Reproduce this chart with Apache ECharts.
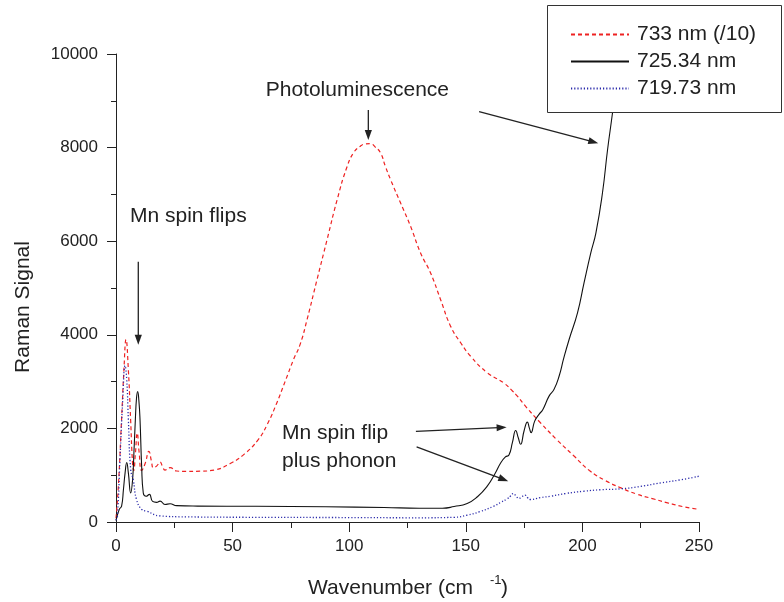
<!DOCTYPE html>
<html>
<head>
<meta charset="utf-8">
<script src="https://cdn.jsdelivr.net/npm/echarts@6/dist/echarts.min.js"></script>
<style>
  html, body { margin: 0; padding: 0; background: #fff; }
  #chart { width: 784px; height: 602px; }
</style>
</head>
<body>
<div id="chart"></div>
<script>
// Series names (legend entries)
const seriesNames = ['733 nm (/10)', '725.34 nm', '719.73 nm'];

// 733 nm excitation, scaled down by 10
const redX = [0, 1, 2.4, 3.4, 4.3, 5.3, 6.3, 7.1, 7.6, 8.3, 9.1, 9.9, 11, 12.5, 14.1, 15.2, 16, 17.5, 18.9, 20, 21, 23.2, 26, 30, 36, 42, 49, 55, 61, 65, 69, 72.5, 76.2, 79, 81.9, 86.2, 90.5, 94.8, 99, 102, 104.8, 107, 109.1, 111, 113.4, 115.5, 117.7, 122, 126.3, 130.6, 134.9, 139.2, 143.5, 147.8, 152.1, 159.2, 166.3, 170, 172.1, 176, 182, 189, 196.4, 203, 210, 216.5, 223, 230, 236.5, 243, 250];
const redY = [80, 750, 2200, 3250, 3900, 3250, 2150, 1250, 1100, 1450, 1900, 1500, 1100, 1250, 1510, 1300, 1160, 1200, 1280, 1180, 1110, 1160, 1090, 1080, 1085, 1110, 1250, 1450, 1760, 2100, 2550, 3000, 3480, 3800, 4320, 5180, 6030, 6880, 7580, 7900, 8030, 8080, 8085, 8020, 7890, 7600, 7320, 6820, 6320, 5750, 5320, 4750, 4180, 3830, 3540, 3190, 2970, 2800, 2690, 2450, 2120, 1760, 1410, 1100, 880, 730, 600, 500, 410, 330, 270];

// 725.34 nm excitation
const blackX = [0, 1.4, 2.4, 3.2, 3.9, 4.6, 5.3, 6.3, 7.1, 7.7, 8.3, 8.8, 9.3, 9.8, 10.3, 11, 11.7, 12.9, 14.3, 15.7, 17.4, 18.9, 21, 23.2, 26, 35, 60, 90, 115, 130, 140, 145, 150.6, 155, 159.2, 162.5, 165, 167, 168.5, 170, 171.4, 172.5, 173.5, 175, 176.4, 177.3, 178, 179.5, 181.4, 183, 185.7, 187.8, 190, 192, 194.3, 197.9, 200.7, 203.6, 205.8, 208.6, 210.8, 212.9, 215, 217];
const blackY = [30, 270, 340, 700, 1050, 1270, 1050, 620, 900, 1500, 2190, 2650, 2790, 2600, 2190, 1190, 620, 550, 590, 440, 420, 445, 375, 390, 350, 340, 335, 325, 310, 295, 295, 330, 395, 540, 765, 1030, 1265, 1390, 1430, 1700, 1955, 1800, 1660, 1950, 2135, 2000, 1910, 2150, 2300, 2400, 2690, 2830, 3115, 3500, 3900, 4470, 5110, 5750, 6180, 7030, 7960, 8740, 9600, 10400];

// 719.73 nm excitation
const blueX = [0, 0.6, 1.7, 2.9, 3.9, 4.6, 5.3, 6.3, 7.4, 8.8, 11, 13.2, 18.9, 30, 60, 100, 130, 145, 150.6, 156, 162, 165, 167.8, 169.3, 170.4, 171.5, 172.8, 174, 175.4, 176.5, 177.8, 182, 186.4, 193, 200.7, 208, 216.5, 225, 233.7, 242, 250];
const blueY = [40, 120, 1330, 2620, 3340, 3050, 2190, 1120, 900, 480, 270, 230, 130, 110, 100, 95, 90, 100, 146, 220, 338, 420, 496, 560, 609, 560, 502, 540, 573, 520, 481, 520, 551, 610, 658, 690, 709, 760, 837, 900, 979];

// Axis ranges
const xRange = [0, 250, 50];
const yRange = [0, 10000, 2000];

// Annotation arrows, in axis units: [from, to]
const arrows = [
  [[108.2, 8805], [108.2, 8164]],
  [[155.7, 8768], [206.8, 8094]],
  [[9.56, 5560], [9.56, 3789]],
  [[128.6, 1938], [167.5, 2023]],
  [[128.9, 1605], [168.2, 871]]
];

const FONT = '"Liberation Sans", Arial, Helvetica, sans-serif';
const INK = '#222';
const pair = (xs, ys) => xs.map((x, i) => [x, ys[i]]);

const chart = echarts.init(document.getElementById('chart'), null, { renderer: 'canvas' });

const axisCommon = {
  type: 'value',
  axisLine: { show: true, onZero: false, lineStyle: { color: INK, width: 1 } },
  axisTick: { show: true, inside: false, lineStyle: { color: INK, width: 1 } },
  minorTick: { show: true, splitNumber: 2, lineStyle: { color: INK, width: 1 } },
  splitLine: { show: false },
  minorSplitLine: { show: false }
};

const plainNumber = v => String(v);

chart.setOption({
  animation: false,
  backgroundColor: '#fff',
  grid: { left: 116, right: 85, top: 54, bottom: 80, containLabel: false },
  xAxis: Object.assign({}, axisCommon, {
    min: xRange[0], max: xRange[1], interval: xRange[2],
    axisTick: Object.assign({}, axisCommon.axisTick, { length: 10 }),
    minorTick: Object.assign({}, axisCommon.minorTick, { length: 6 }),
    axisLabel: { fontSize: 17, color: INK, fontFamily: FONT, margin: 16, formatter: plainNumber }
  }),
  yAxis: Object.assign({}, axisCommon, {
    min: yRange[0], max: yRange[1], interval: yRange[2],
    axisTick: Object.assign({}, axisCommon.axisTick, { length: 9 }),
    minorTick: Object.assign({}, axisCommon.minorTick, { length: 5 }),
    axisLabel: { fontSize: 17, color: INK, fontFamily: FONT, margin: 18, formatter: plainNumber }
  }),
  legend: {
    data: seriesNames,
    orient: 'vertical',
    left: 570,
    top: 24,
    padding: 0,
    itemWidth: 58,
    itemHeight: 14,
    itemGap: 6,
    selectedMode: false,
    z: 30,
    itemStyle: { opacity: 0 },
    textStyle: { fontSize: 21, lineHeight: 21, color: INK, fontFamily: FONT, padding: [0, 0, 0, 3] }
  },
  series: [
    {
      name: seriesNames[0], type: 'line', data: pair(redX, redY),
      symbol: 'none', showSymbol: false, smooth: 0.5,
      lineStyle: { color: '#ee2222', width: 1.2, type: [4, 3] },
      itemStyle: { color: '#ee2222' }
    },
    {
      name: seriesNames[1], type: 'line', data: pair(blackX, blackY),
      symbol: 'none', showSymbol: false, smooth: 0.5,
      lineStyle: { color: '#111', width: 1.1, type: 'solid' },
      itemStyle: { color: '#111' }
    },
    {
      name: seriesNames[2], type: 'line', data: pair(blueX, blueY),
      symbol: 'none', showSymbol: false, smooth: 0.5,
      lineStyle: { color: '#2a2aaa', width: 1.3, type: [1.2, 2] },
      itemStyle: { color: '#2a2aaa' }
    }
  ]
});

// Arrow = shaft + filled head, endpoints taken through the grid's scales
function arrowShapes(from, to) {
  const p0 = chart.convertToPixel({ gridIndex: 0 }, from);
  const p1 = chart.convertToPixel({ gridIndex: 0 }, to);
  const dx = p1[0] - p0[0], dy = p1[1] - p0[1];
  const len = Math.sqrt(dx * dx + dy * dy);
  const ux = dx / len, uy = dy / len;
  const head = 10, half = 3.6;
  const bx = p1[0] - ux * head, by = p1[1] - uy * head;
  return [
    {
      type: 'line', z: 25, silent: true,
      shape: { x1: p0[0], y1: p0[1], x2: bx + ux * 2, y2: by + uy * 2 },
      style: { stroke: INK, lineWidth: 1.3 }
    },
    {
      type: 'polygon', z: 25, silent: true,
      shape: { points: [[p1[0], p1[1]], [bx - uy * half, by + ux * half], [bx + uy * half, by - ux * half]] },
      style: { fill: INK }
    }
  ];
}

function label(text, x, y, size, align, rotation) {
  return {
    type: 'text', z: 25, silent: true, x: x, y: y, rotation: rotation || 0,
    style: { text: text, fill: INK, font: size + 'px ' + FONT, align: align || 'left', verticalAlign: 'middle' }
  };
}

const elements = [
  // legend frame, above the curves and below the legend entries
  {
    type: 'rect', z: 20, silent: true,
    shape: { x: 547.5, y: 5.5, width: 234, height: 107 },
    style: { fill: '#fff', stroke: '#333', lineWidth: 1 }
  },
  label('Raman Signal', 23, 307, 21, 'center', Math.PI / 2),
  label('Wavenumber (cm', 308, 588, 21, 'left'),
  label('-1', 490, 580, 13, 'left'),
  label(')', 501, 588, 21, 'left'),
  label('Photoluminescence', 449, 90, 21, 'right'),
  label('Mn spin flips', 130, 216, 21, 'left'),
  label('Mn spin flip', 282, 433, 21, 'left'),
  label('plus phonon', 282, 461, 21, 'left')
];
arrows.forEach(a => elements.push.apply(elements, arrowShapes(a[0], a[1])));

chart.setOption({ graphic: { elements: elements } });
</script>
</body>
</html>
